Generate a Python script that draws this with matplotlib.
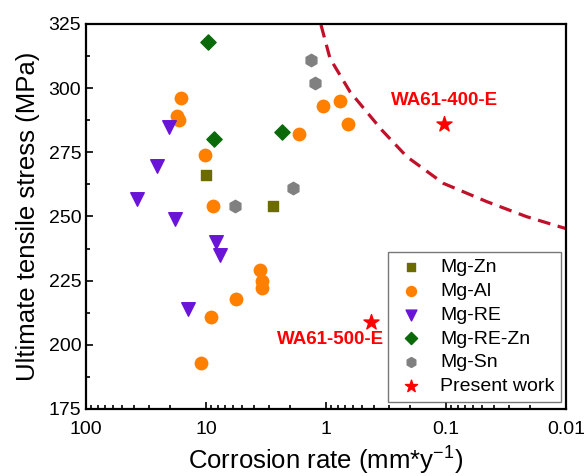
import matplotlib
matplotlib.use('Agg')
import matplotlib.pyplot as plt
from matplotlib.ticker import FixedLocator, NullFormatter, LogLocator

plt.rcParams['font.family'] = ['Liberation Sans', 'DejaVu Sans']
plt.rcParams['mathtext.fontset'] = 'custom'
plt.rcParams['mathtext.rm'] = 'Liberation Sans'

# data (corrosion rate mm/y, UTS MPa)
mgzn_x = [10.0, 2.77]
mgzn_y = [266, 254]

mgal_x = [16.2, 17.5, 16.9, 10.1, 8.8, 1.67, 1.05, 0.76, 0.66, 3.55, 3.4, 3.4, 5.6, 9.1, 11.1]
mgal_y = [296, 289, 287.5, 274, 254, 282, 293, 295, 286, 229, 225, 222, 218, 211, 193]

mgre_x = [20.2, 25.8, 37.3, 18.1, 8.3, 7.7, 14.0]
mgre_y = [285, 269.5, 257, 249, 240, 235, 214]

mgrezn_x = [9.6, 8.5, 2.33]
mgrezn_y = [318, 280, 283]

mgsn_x = [5.7, 1.87, 1.34, 1.23]
mgsn_y = [254, 261, 311, 302]

present_x = [0.103, 0.42]
present_y = [286, 209]
present_labels = ['WA61-400-E', 'WA61-500-E']

# dashed boundary line
curve_x = [1.10, 0.926, 0.631, 0.343, 0.212, 0.105, 0.0458, 0.0212, 0.0109, 0.01]
curve_y = [324.6, 311.6, 298.6, 283.7, 273.3, 262.9, 255.8, 249.9, 245.8, 245.3]

fig = plt.figure(figsize=(5.87, 4.76), dpi=100)
ax = fig.add_axes([0.1465, 0.1408, 0.8177, 0.8088])

ax.plot(curve_x, curve_y, color='#c0102a', lw=2.3, dashes=(4, 2.4), zorder=1)

ax.scatter(mgzn_x, mgzn_y, marker='s', s=60, color='#6b6b00', label='Mg-Zn', zorder=3)
ax.scatter(mgal_x, mgal_y, marker='o', s=80, color='#ff8000', label='Mg-Al', zorder=3)
ax.scatter(mgre_x, mgre_y, marker='v', s=95, color='#6a14d8', label='Mg-RE', zorder=3)
ax.scatter(mgrezn_x, mgrezn_y, marker='D', s=60, color='#0a6a0a', label='Mg-RE-Zn', zorder=3)
ax.scatter(mgsn_x, mgsn_y, marker='h', s=80, color='#808080', label='Mg-Sn', zorder=3)
ax.scatter(present_x, present_y, marker='*', s=130, color='#ff0000', label='Present work', zorder=3)

ax.annotate(present_labels[0], (present_x[0], present_y[0]), xytext=(0, 11),
            textcoords='offset points', ha='center', va='bottom',
            color='#ff0000', fontsize=13.5, fontweight='bold')
ax.annotate(present_labels[1], (present_x[1], present_y[1]), xytext=(9, -7),
            textcoords='offset points', ha='right', va='top',
            color='#ff0000', fontsize=13.5, fontweight='bold')

ax.set_xscale('log')
ax.set_xlim(100, 0.01)
ax.set_ylim(175, 325)
ax.set_xticks([100, 10, 1, 0.1, 0.01])
ax.set_xticklabels(['100', '10', '1', '0.1', '0.01'])
ax.xaxis.set_minor_locator(LogLocator(base=10, subs=range(2, 10), numticks=20))
ax.xaxis.set_minor_formatter(NullFormatter())
ax.set_yticks([175, 200, 225, 250, 275, 300, 325])
ax.yaxis.set_minor_locator(FixedLocator([187.5, 212.5, 237.5, 262.5, 287.5, 312.5]))

ax.tick_params(axis='both', which='both', direction='in', labelsize=14, width=1.2)
ax.tick_params(axis='both', which='major', length=5)
ax.tick_params(axis='both', which='minor', length=3)
ax.tick_params(axis='x', which='major', pad=9)
for sp in ax.spines.values():
    sp.set_linewidth(1.6)

ax.set_xlabel('Corrosion rate (mm*y$^{\\mathrm{-1}}$)', fontsize=18.5, labelpad=3)
ax.set_ylabel('Ultimate tensile stress (MPa)', fontsize=18.5, labelpad=6)

leg = ax.legend(loc='lower right', bbox_to_anchor=(0.99, 0.018), borderaxespad=0,
                fontsize=14, frameon=True, fancybox=False, labelspacing=0.32,
                handletextpad=0.7, borderpad=0.35, handlelength=1.6, scatterpoints=1,
                markerscale=0.8)
leg.get_frame().set_edgecolor('#555555')
leg.get_frame().set_linewidth(1.0)

fig.savefig('out.png', dpi=100)
